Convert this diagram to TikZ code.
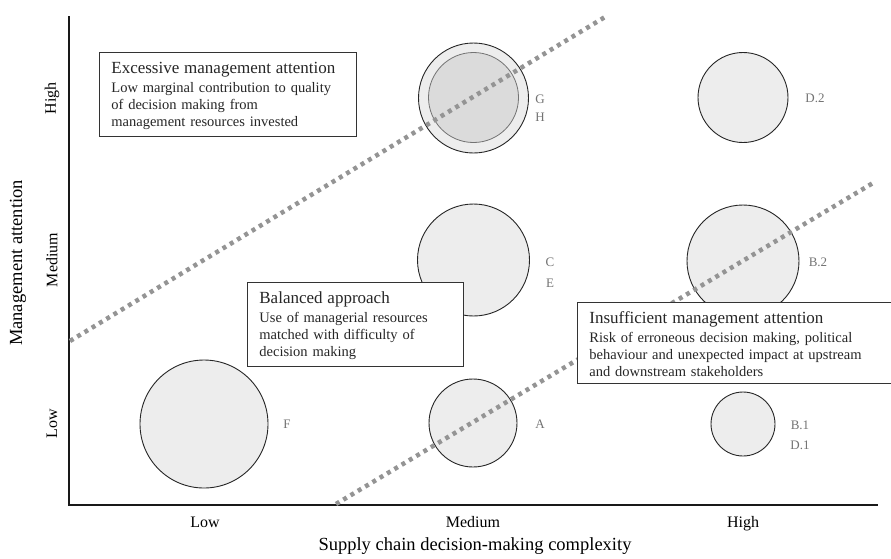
\documentclass[tikz,border=0pt]{standalone}
\usepackage{fontspec}
\setmainfont{Liberation Serif}
\definecolor{bubblefill}{gray}{0.93}
\definecolor{innerfill}{gray}{0.86}
\definecolor{dotgray}{gray}{0.58}
\definecolor{labelgray}{gray}{0.45}
\tikzset{
  bubble/.style={circle,draw=black!85,fill=bubblefill,line width=0.9pt,inner sep=0pt,minimum size=#1},
  caselabel/.style={text=labelgray,font=\fontsize{13}{15}\selectfont},
  ticklabel/.style={font=\fontsize{16}{18}\selectfont},
  axistitle/.style={font=\fontsize{18.5}{20}\selectfont},
  zoneline/.style={draw=dotgray,line width=4.5pt,dash pattern=on 4pt off 4.5pt},
  zonebox/.style={draw=black!80,fill=white,line width=0.8pt,anchor=north west,align=left,
    inner xsep=12pt,inner ysep=6.5pt,text=black!85,font=\fontsize{14.5}{17}\selectfont},
}
\newcommand{\zonetitle}[1]{\rule{0pt}{15pt}{\fontsize{17}{17}\selectfont #1}\\[2pt]}
\begin{document}
\begin{tikzpicture}[x=1pt,y=-1pt]
  \useasboundingbox (0,0) rectangle (891,558);
  \coordinate (ytop) at (69,16);
  \coordinate (origin) at (69,505);
  \coordinate (xend) at (878,505);
  \draw[line width=2pt,black!90] (ytop) -- (origin) -- (xend);

  \node[ticklabel,anchor=base] (xlow) at (205,527) {Low};
  \node[ticklabel,anchor=base] (xmed) at (473,527) {Medium};
  \node[ticklabel,anchor=base] (xhigh) at (743,527) {High};
  \node[axistitle,anchor=base] (xtitle) at (475,550) {Supply chain decision-making complexity};
  \node[ticklabel,rotate=90] (yhigh) at (52,98) {High};
  \node[ticklabel,rotate=90] (ymed) at (52,260) {Medium};
  \node[ticklabel,rotate=90] (ylow) at (52,424) {Low};
  \node[axistitle,rotate=90] (ytitle) at (18,263) {Management attention};

  \node[bubble=128pt] (F) at (204,424) {};
  \node[bubble=88pt] (A) at (473,423) {};
  \node[bubble=64pt] (B1) at (743,424) {};
  \node[bubble=112pt] (CE) at (473.5,260) {};
  \node[bubble=112pt] (B2) at (743,261) {};
  \node[bubble=90pt] (D2) at (743,97.5) {};
  \node[bubble=110pt] (GH) at (473.5,98) {};
  \node[bubble=90pt,fill=innerfill,draw=black!55,line width=0.8pt] (GHin) at (473.5,97.5) {};

  \node[caselabel] (lF) at (287,424) {F};
  \node[caselabel] (lA) at (540,424) {A};
  \node[caselabel] (lB1) at (800,425) {B.1};
  \node[caselabel] (lD1) at (800,445) {D.1};
  \node[caselabel] (lC) at (550,262) {C};
  \node[caselabel] (lE) at (550,283) {E};
  \node[caselabel] (lB2) at (818,262) {B.2};
  \node[caselabel] (lD2) at (815,98) {D.2};
  \node[caselabel] (lG) at (540,99) {G};
  \node[caselabel] (lH) at (540,117) {H};

  \coordinate (upperstart) at (70,341);
  \coordinate (upperend) at (605,17);
  \coordinate (lowerstart) at (336,504);
  \coordinate (lowerend) at (873,183);
  \begin{scope}[zoneline]
    \draw (upperstart) -- (upperend);
    \draw (lowerstart) -- (lowerend);
  \end{scope}

  \node[zonebox,text width=233pt] (excess) at (99,52) {\zonetitle{Excessive management attention}%
    Low marginal contribution to quality\\
    of decision making from\\
    management resources invested};
  \node[zonebox,text width=192pt] (balanced) at (247,282) {\zonetitle{Balanced approach}%
    Use of managerial resources\\
    matched with difficulty of\\
    decision making};
  \node[zonebox,text width=305pt] (insufficient) at (577,302) {\zonetitle{Insufficient management attention}%
    Risk of erroneous decision making, political\\
    behaviour and unexpected impact at upstream\\
    and downstream stakeholders};
\end{tikzpicture}
\end{document}
